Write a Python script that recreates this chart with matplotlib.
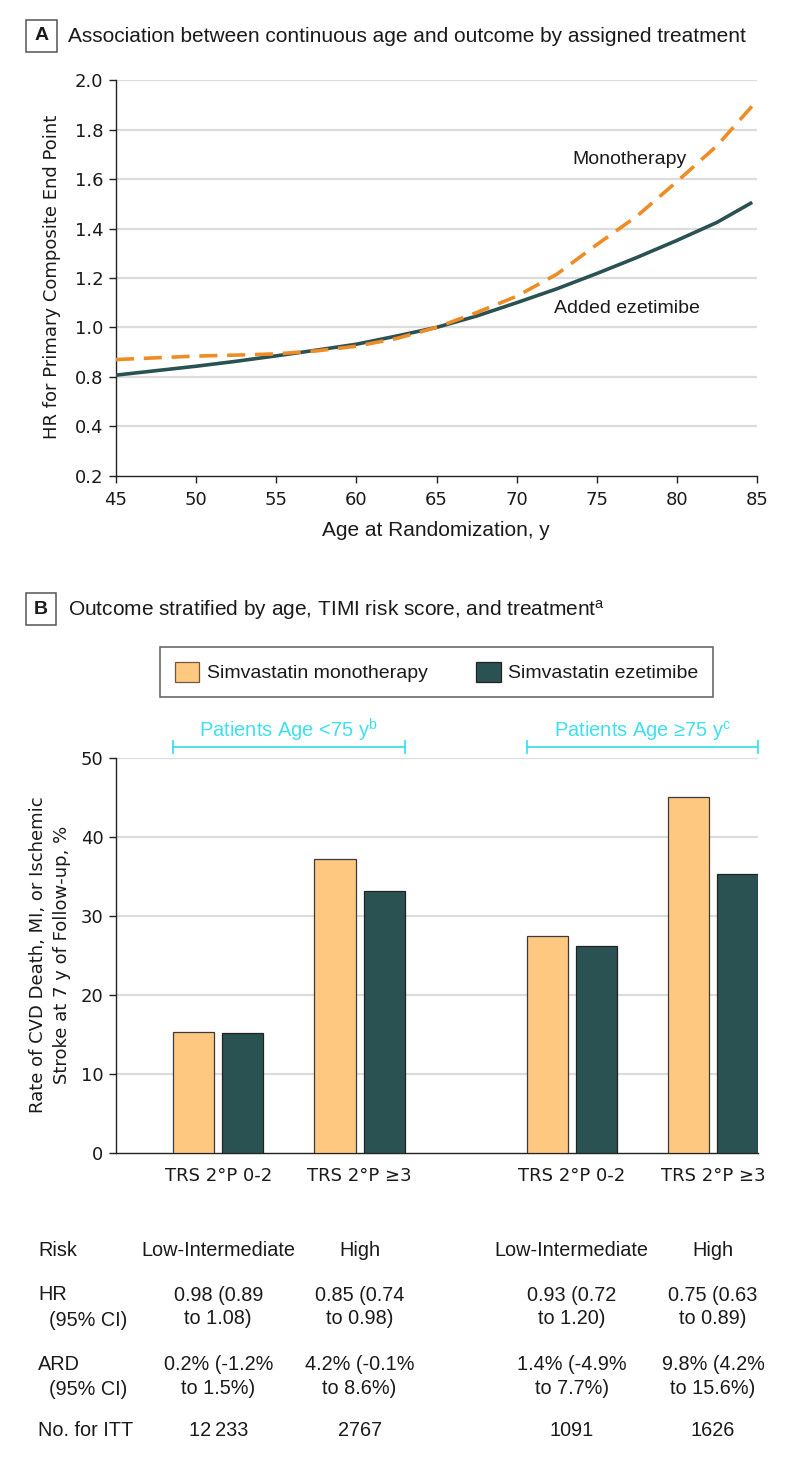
import matplotlib
matplotlib.use("Agg")
import matplotlib.pyplot as plt
from matplotlib.patches import Patch, Rectangle
from matplotlib import transforms
from matplotlib import font_manager as fm

# ---------------- data ----------------
ages = [45, 47.5, 50, 52.5, 55, 57.5, 60, 62.5, 65, 67.5, 70, 72.5, 75, 77.5, 80, 82.5, 84.7]
hr_mono = [0.870, 0.877, 0.884, 0.888, 0.893, 0.905, 0.924, 0.955, 1.000, 1.060, 1.126,
           1.215, 1.335, 1.450, 1.590, 1.735, 1.896]
hr_eze = [0.807, 0.825, 0.843, 0.863, 0.885, 0.908, 0.932, 0.965, 1.000, 1.046, 1.100,
          1.156, 1.218, 1.283, 1.352, 1.425, 1.506]
a_xticks = [45, 50, 55, 60, 65, 70, 75, 80, 85]
a_yticks = [0.4, 0.6, 0.8, 1.0, 1.2, 1.4, 1.6, 1.8, 2.0]
a_yticklabels = ["0.2", "0.4", "0.8", "1.0", "1.2", "1.4", "1.6", "1.8", "2.0"]

bar_cats = ["TRS 2°P 0-2", "TRS 2°P ≥3", "TRS 2°P 0-2", "TRS 2°P ≥3"]
rate_mono = [15.4, 37.3, 27.5, 45.1]
rate_eze = [15.2, 33.2, 26.2, 35.3]
b_yticks = [0, 10, 20, 30, 40, 50]

risk_row = ["Low-Intermediate", "High", "Low-Intermediate", "High"]
hr_row = ["0.98 (0.89\nto 1.08)", "0.85 (0.74\nto 0.98)", "0.93 (0.72\nto 1.20)", "0.75 (0.63\nto 0.89)"]
ard_row = ["0.2% (-1.2%\nto 1.5%)", "4.2% (-0.1%\nto 8.6%)", "1.4% (-4.9%\nto 7.7%)", "9.8% (4.2%\nto 15.6%)"]
itt_row = ["12\u2009233", "2767", "1091", "1626"]

# ---------------- style ----------------
names = {f.name for f in fm.fontManager.ttflist}
SANS = "Liberation Sans" if "Liberation Sans" in names else "DejaVu Sans"
AX = "DejaVu Sans"
plt.rcParams["font.family"] = [SANS, "DejaVu Sans"]
plt.rcParams["mathtext.fontset"] = "custom"
plt.rcParams["mathtext.rm"] = SANS
plt.rcParams["mathtext.it"] = SANS

ORANGE = "#EE8C26"
TEAL = "#2B5252"
LIGHT = "#FFC880"
GRID = "#DCDCDC"
CYAN = "#3FE0EE"
TXT = "#1a1a1a"

W, H = 794, 1458
fig = plt.figure(figsize=(W / 100, H / 100), dpi=100)

def fx(px):
    return px / W

def fy(py):
    return 1 - py / H

# ---------------- panel A ----------------
axA = fig.add_axes([fx(116), fy(475.7), fx(757) - fx(116), fy(80.3) - fy(475.7)])
axA.set_xlim(45, 85)
axA.set_ylim(0.4, 2.0)
for yv in a_yticks[1:]:
    axA.axhline(yv, color=GRID, lw=1.6, zorder=0)
axA.plot(ages, hr_eze, color=TEAL, lw=2.6, zorder=3, solid_capstyle="butt")
axA.plot(ages, hr_mono, color=ORANGE, lw=2.6, dashes=(5, 2.7), zorder=4)
axA.set_xticks(a_xticks)
axA.set_yticks(a_yticks)
axA.set_yticklabels(a_yticklabels)
for s in ["top", "right"]:
    axA.spines[s].set_visible(False)
for s in ["left", "bottom"]:
    axA.spines[s].set_color("#222")
    axA.spines[s].set_linewidth(1.0)
axA.tick_params(axis="both", direction="out", length=5, width=1, color="#222",
                labelsize=13, labelcolor=TXT, pad=4)
axA.tick_params(axis="x", pad=6)
for lab in axA.get_xticklabels() + axA.get_yticklabels():
    lab.set_fontfamily(AX)
axA.text(73.45, 1.681, "Monotherapy", fontsize=14, color=TXT, va="center", ha="left")
axA.text(72.34, 1.078, "Added ezetimibe", fontsize=14, color=TXT, va="center", ha="left")

fig.text(fx(52), fy(277), "HR for Primary Composite End Point", rotation=90,
         ha="center", va="center", fontsize=13, family=AX, color=TXT)
fig.text(fx(436), fy(530), "Age at Randomization, y", ha="center", va="center",
         fontsize=15, color=TXT)

# titles with boxed letters
def boxed(letter, x0, y0, x1, y1, title, ty):
    fig.patches.append(Rectangle((fx(x0), fy(y1)), fx(x1) - fx(x0), fy(y0) - fy(y1),
                                 transform=fig.transFigure, fill=False,
                                 edgecolor="#555", lw=1.1))
    fig.text(fx((x0 + x1) / 2), fy((y0 + y1) / 2), letter, ha="center", va="center",
             fontsize=14, weight="bold", color=TXT)
    fig.text(fx(68), fy(ty), title, ha="left", va="center", fontsize=15, color=TXT)

boxed("A", 25.7, 20, 56.7, 51.7,
      "Association between continuous age and outcome by assigned treatment", 36)
boxed("B", 25.5, 593.5, 56.0, 625,
      "Outcome stratified by age, TIMI risk score, and treatment$^{\\mathrm{a}}$", 610)

# ---------------- panel B ----------------
group_pos = [0, 1, 2.5, 3.5]
off = 0.174
bw = 0.291
axB = fig.add_axes([fx(116), fy(1153.3), fx(757.6) - fx(116), fy(758.3) - fy(1153.3)])
axB.set_xlim(-0.723, 3.815)
axB.set_ylim(0, 50)
for yv in b_yticks[1:]:
    axB.axhline(yv, color=GRID, lw=1.6, zorder=0)
axB.bar([p - off for p in group_pos], rate_mono, width=bw, color=LIGHT,
        edgecolor="#3a3a3a", linewidth=0.9, zorder=3, label="Simvastatin monotherapy")
axB.bar([p + off for p in group_pos], rate_eze, width=bw, color=TEAL,
        edgecolor="#222", linewidth=0.9, zorder=3, label="Simvastatin ezetimibe")
axB.set_xticks(group_pos)
axB.set_xticklabels(bar_cats)
axB.set_yticks(b_yticks)
for s in ["top", "right"]:
    axB.spines[s].set_visible(False)
for s in ["left", "bottom"]:
    axB.spines[s].set_color("#222")
    axB.spines[s].set_linewidth(1.0)
axB.tick_params(axis="y", direction="out", length=5, width=1, color="#222",
                labelsize=13, labelcolor=TXT, pad=4)
axB.tick_params(axis="x", length=0, labelsize=13, labelcolor=TXT, pad=10)
for lab in axB.get_xticklabels() + axB.get_yticklabels():
    lab.set_fontfamily(AX)

fig.text(fx(50), fy(955), "Rate of CVD Death, MI, or Ischemic\nStroke at 7 y of Follow-up, %",
         rotation=90, ha="center", va="center", fontsize=13, family=AX, color=TXT,
         linespacing=1.45)

# cyan brackets
brackets = [("Patients Age <75 y$^{\\mathrm{b}}$", 0, 1), ("Patients Age ≥75 y$^{\\mathrm{c}}$", 2.5, 3.5)]
edge = off + bw / 2
for label, g0, g1 in brackets:
    xa, xb = g0 - edge, g1 + edge
    axB.plot([xa, xb], [51.4, 51.4], color=CYAN, lw=1.3, clip_on=False)
    axB.plot([xa, xa], [50.65, 52.15], color=CYAN, lw=1.3, clip_on=False)
    axB.plot([xb, xb], [50.65, 52.15], color=CYAN, lw=1.3, clip_on=False)
    axB.text((xa + xb) / 2, 53.5, label, color=CYAN, fontsize=14.5, ha="center",
             va="center", clip_on=False)

# legend
handles = [Patch(facecolor=LIGHT, edgecolor="#6b5a40", linewidth=0.9),
           Patch(facecolor=TEAL, edgecolor="#222", linewidth=0.9)]
leg = fig.legend(handles, ["Simvastatin monotherapy", "Simvastatin ezetimibe"],
                 loc="center", bbox_to_anchor=(fx(436.7), fy(672)), ncol=2,
                 frameon=True, fancybox=False, edgecolor="#444", fontsize=14,
                 handlelength=1.25, handleheight=1.25, handletextpad=0.4,
                 columnspacing=2.5, borderpad=0.75)
leg.get_frame().set_linewidth(1.2)
for t in leg.get_texts():
    t.set_color(TXT)

# ---------------- table ----------------
tr = transforms.blended_transform_factory(axB.transData, fig.transFigure)
fs_t = 14.3
fig.text(fx(38), fy(1250), "Risk", ha="left", va="center", fontsize=fs_t, color=TXT)
fig.text(fx(38), fy(1294), "HR", ha="left", va="center", fontsize=fs_t, color=TXT)
fig.text(fx(49), fy(1320), "(95% CI)", ha="left", va="center", fontsize=fs_t, color=TXT)
fig.text(fx(38), fy(1364), "ARD", ha="left", va="center", fontsize=fs_t, color=TXT)
fig.text(fx(49), fy(1389.5), "(95% CI)", ha="left", va="center", fontsize=fs_t, color=TXT)
fig.text(fx(38), fy(1430.7), "No. for ITT", ha="left", va="center", fontsize=fs_t, color=TXT)
for i, p in enumerate(group_pos):
    fig.text(p, fy(1250), risk_row[i], transform=tr, ha="center", va="center",
             fontsize=fs_t, color=TXT)
    fig.text(p, fy(1307), hr_row[i], transform=tr, ha="center", va="center",
             fontsize=fs_t, color=TXT, linespacing=1.3, multialignment="center")
    fig.text(p, fy(1376.7), ard_row[i], transform=tr, ha="center", va="center",
             fontsize=fs_t, color=TXT, linespacing=1.3, multialignment="center")
    fig.text(p, fy(1430.7), itt_row[i], transform=tr, ha="center", va="center",
             fontsize=fs_t, color=TXT, family=[SANS, "DejaVu Sans"])

fig.savefig("out.png", dpi=100, facecolor="white")
